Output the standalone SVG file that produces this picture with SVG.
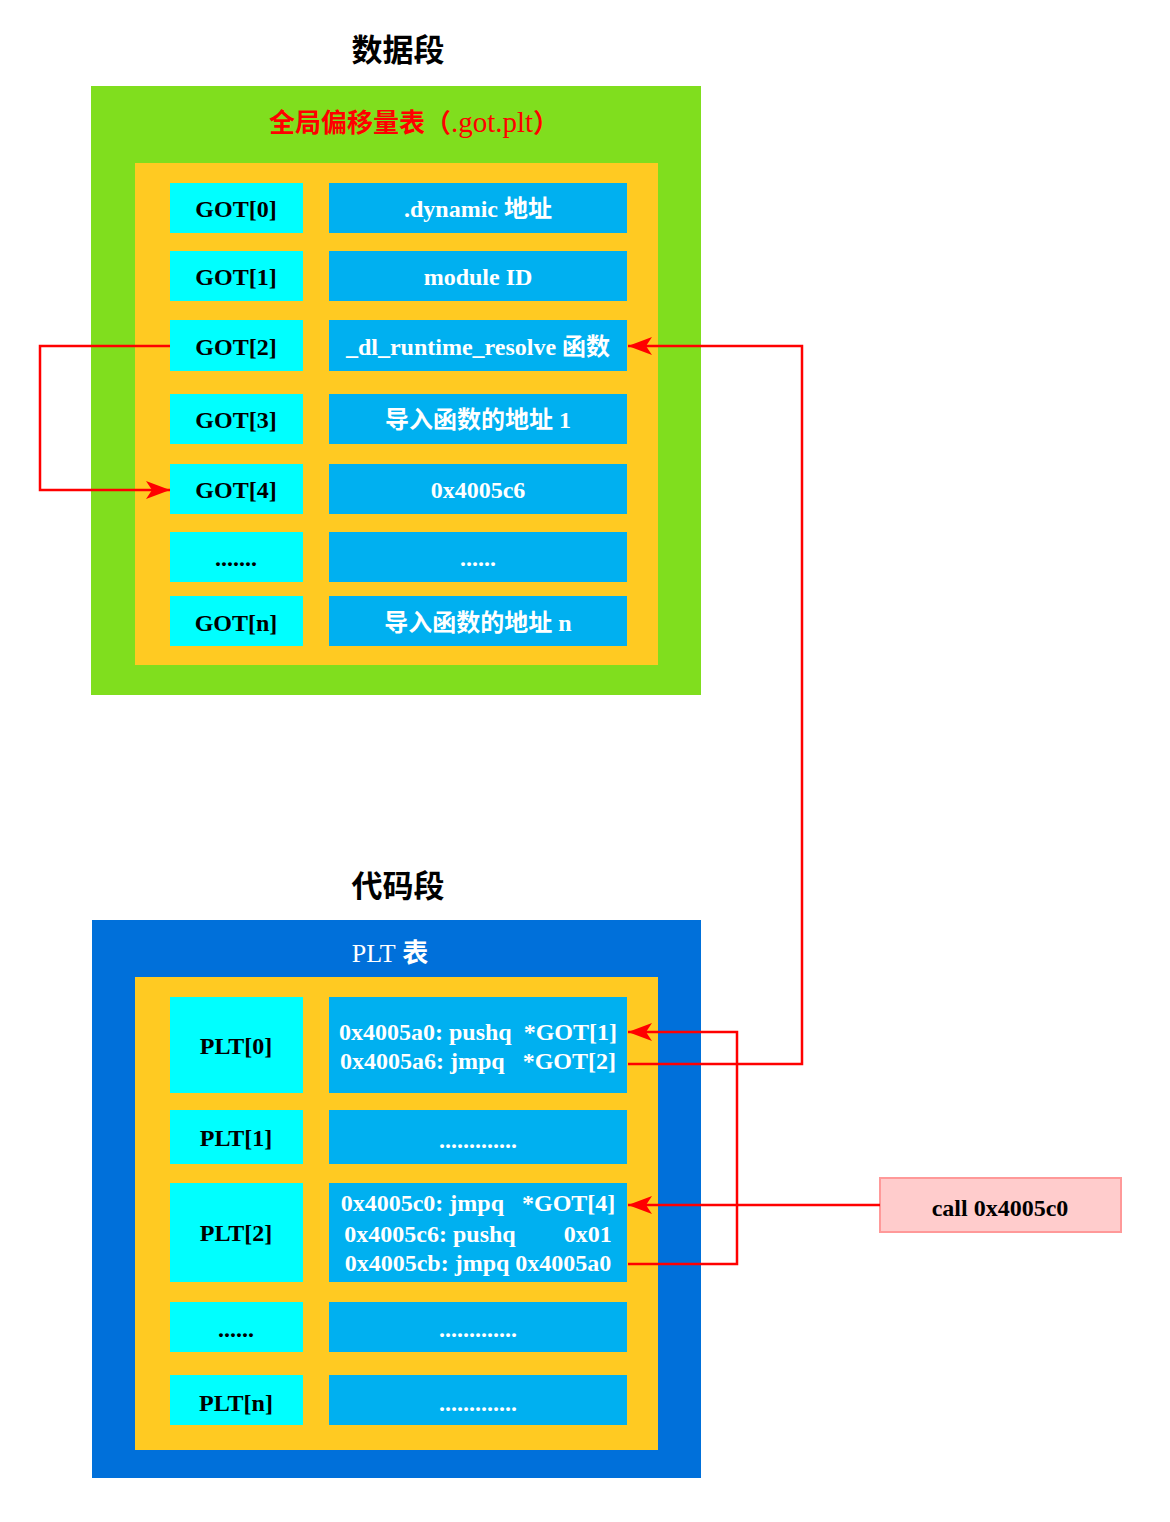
<svg xmlns="http://www.w3.org/2000/svg" width="1170" height="1522" viewBox="0 0 1170 1522">
<defs>
<style>
.t{font-family:"Liberation Serif","Noto Sans CJK SC",serif;font-weight:bold;text-anchor:middle}
.title{font-size:31px;fill:#000}
.k{font-size:24px;fill:#000}
.w{font-size:24px;fill:#fff}
.lc{fill:#00FFFF}
.rc{fill:#00B0F0}
.yl{fill:#FFCA22}
.ln{fill:none;stroke:#FF0000;stroke-width:2.5}
</style>
<marker id="ah" viewBox="0 0 24 18" refX="24" refY="9" markerWidth="24" markerHeight="18" markerUnits="userSpaceOnUse" orient="auto">
<path d="M0,0 L24,9 L0,18 L6,9 Z" fill="#FF0000"/>
</marker>
</defs>
<rect width="1170" height="1522" fill="#fff"/>

<g id="data-seg">
<text class="t title" x="398" y="61">数据段</text>
<rect x="91" y="86" width="610" height="609" fill="#80DE1E"/>
<text class="t" x="414" y="132" font-size="26" fill="#FF0000">全局偏移量表（<tspan font-weight="normal" font-size="29">.got.plt</tspan>）</text>
<rect class="yl" x="135" y="163" width="523" height="502"/>
</g>

<g id="got0"><rect class="lc" x="170" y="183" width="133" height="50"/><text class="t k" x="236" y="217">GOT[0]</text></g>
<g id="got0v"><rect class="rc" x="329" y="183" width="298" height="50"/><text class="t w" x="478" y="217">.dynamic 地址</text></g>
<g id="got1"><rect class="lc" x="170" y="251" width="133" height="50"/><text class="t k" x="236" y="285">GOT[1]</text></g>
<g id="got1v"><rect class="rc" x="329" y="251" width="298" height="50"/><text class="t w" x="478" y="285">module ID</text></g>
<g id="got2"><rect class="lc" x="170" y="320" width="133" height="51"/><text class="t k" x="236" y="355">GOT[2]</text></g>
<g id="got2v"><rect class="rc" x="329" y="320" width="298" height="51"/><text class="t w" x="478" y="355">_dl_runtime_resolve 函数</text></g>
<g id="got3"><rect class="lc" x="170" y="394" width="133" height="50"/><text class="t k" x="236" y="428">GOT[3]</text></g>
<g id="got3v"><rect class="rc" x="329" y="394" width="298" height="50"/><text class="t w" x="478" y="428">导入函数的地址 1</text></g>
<g id="got4"><rect class="lc" x="170" y="464" width="133" height="50"/><text class="t k" x="236" y="498">GOT[4]</text></g>
<g id="got4v"><rect class="rc" x="329" y="464" width="298" height="50"/><text class="t w" x="478" y="498">0x4005c6</text></g>
<g id="gotd"><rect class="lc" x="170" y="532" width="133" height="50"/><text class="t k" x="236" y="566">.......</text></g>
<g id="gotdv"><rect class="rc" x="329" y="532" width="298" height="50"/><text class="t w" x="478" y="566">......</text></g>
<g id="gotn"><rect class="lc" x="170" y="596" width="133" height="50"/><text class="t k" x="236" y="631">GOT[n]</text></g>
<g id="gotnv"><rect class="rc" x="329" y="596" width="298" height="50"/><text class="t w" x="478" y="631">导入函数的地址 n</text></g>

<g id="code-seg">
<text class="t title" x="398" y="897">代码段</text>
<rect x="92" y="920" width="609" height="558" fill="#0070DA"/>
<text class="t" x="390" y="962" font-size="26" fill="#fff"><tspan font-weight="normal">PLT</tspan> 表</text>
<rect class="yl" x="135" y="977" width="523" height="473"/>
</g>

<g id="plt0"><rect class="lc" x="170" y="997" width="133" height="96"/><text class="t k" x="236" y="1054">PLT[0]</text></g>
<g id="plt0v"><rect class="rc" x="329" y="997" width="298" height="96"/>
<text class="t w" x="478" y="1040" xml:space="preserve">0x4005a0: pushq  *GOT[1]</text>
<text class="t w" x="478" y="1069" xml:space="preserve">0x4005a6: jmpq   *GOT[2]</text></g>
<g id="plt1"><rect class="lc" x="170" y="1110" width="133" height="54"/><text class="t k" x="236" y="1146">PLT[1]</text></g>
<g id="plt1v"><rect class="rc" x="329" y="1110" width="298" height="54"/><text class="t w" x="478" y="1148">.............</text></g>
<g id="plt2"><rect class="lc" x="170" y="1183" width="133" height="99"/><text class="t k" x="236" y="1241">PLT[2]</text></g>
<g id="plt2v"><rect class="rc" x="329" y="1183" width="298" height="99"/>
<text class="t w" x="478" y="1211" xml:space="preserve">0x4005c0: jmpq   *GOT[4]</text>
<text class="t w" x="478" y="1242" xml:space="preserve">0x4005c6: pushq        0x01</text>
<text class="t w" x="478" y="1271" xml:space="preserve">0x4005cb: jmpq 0x4005a0</text></g>
<g id="pltd"><rect class="lc" x="170" y="1302" width="133" height="50"/><text class="t k" x="236" y="1337">......</text></g>
<g id="pltdv"><rect class="rc" x="329" y="1302" width="298" height="50"/><text class="t w" x="478" y="1337">.............</text></g>
<g id="pltn"><rect class="lc" x="170" y="1375" width="133" height="50"/><text class="t k" x="236" y="1411">PLT[n]</text></g>
<g id="pltnv"><rect class="rc" x="329" y="1375" width="298" height="50"/><text class="t w" x="478" y="1411">.............</text></g>

<g id="call"><rect x="880" y="1178" width="241" height="54" fill="#FFCCCC" stroke="#FF9999" stroke-width="2"/><text class="t k" x="1000" y="1216">call 0x4005c0</text></g>

<g id="connectors">
<path class="ln" d="M170,346 H40 V490 H170" marker-end="url(#ah)"/>
<path class="ln" d="M628,1064 H802 V346 H628" marker-end="url(#ah)"/>
<path class="ln" d="M628,1264 H737 V1032 H628" marker-end="url(#ah)"/>
<path class="ln" d="M880,1205 H628" marker-end="url(#ah)"/>
</g>
</svg>
